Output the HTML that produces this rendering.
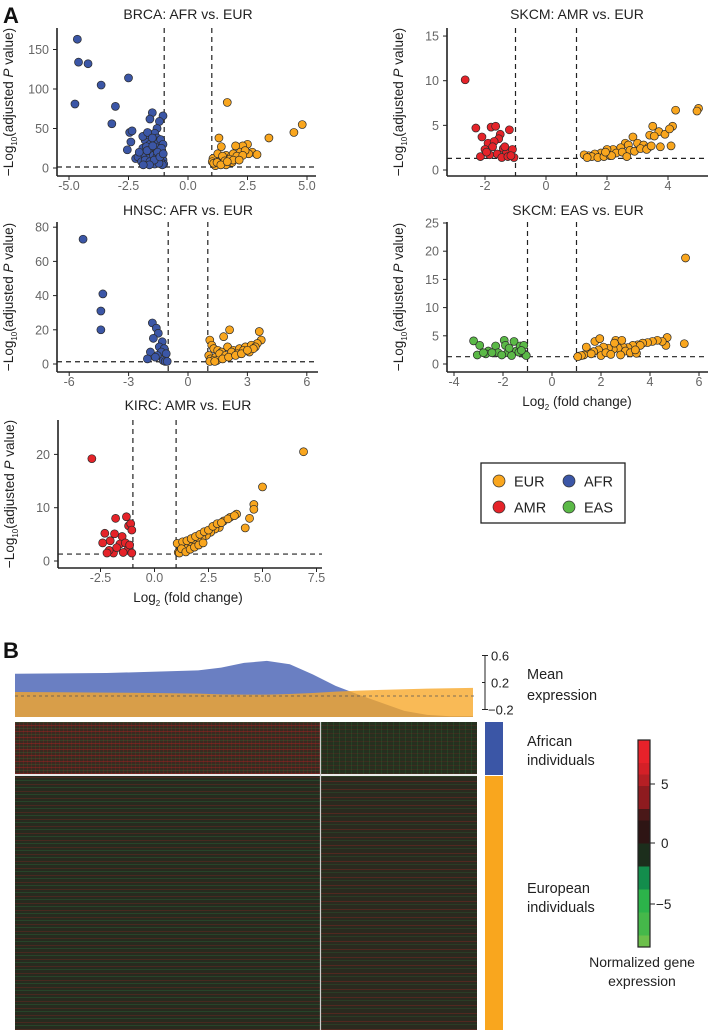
<!DOCTYPE html>
<html><head><meta charset="utf-8"><style>
body{margin:0;background:#fff;width:710px;height:1033px;overflow:hidden;position:relative;font-family:"Liberation Sans",sans-serif}
svg{position:absolute;left:0;top:0}
.hm{position:absolute}
</style></head><body>
<div class="hm" style="left:15px;top:722px;width:305px;height:52px;background:repeating-linear-gradient(0deg,rgba(200,30,35,.35) 0 1px,transparent 1px 3px,rgba(40,160,70,.18) 3px 4px,transparent 4px 6px),repeating-linear-gradient(90deg,rgba(190,30,30,.18) 0 1px,transparent 1px 4px),#3a2a20"></div>
<div class="hm" style="left:321px;top:722px;width:156px;height:52px;background:repeating-linear-gradient(90deg,rgba(40,170,70,.14) 0 1px,transparent 1px 6px),repeating-linear-gradient(0deg,rgba(180,30,30,.15) 0 1px,transparent 1px 4px),#26301f"></div>
<div class="hm" style="left:15px;top:776px;width:305px;height:254px;background:repeating-linear-gradient(0deg,rgba(190,35,35,.22) 0 1px,transparent 1px 4px,rgba(40,170,80,.2) 4px 5px,transparent 5px 7px),#272b1f"></div>
<div class="hm" style="left:321px;top:776px;width:156px;height:254px;background:repeating-linear-gradient(0deg,rgba(200,35,35,.25) 0 1px,transparent 1px 5px,rgba(40,160,70,.15) 5px 6px,transparent 6px 8px),#2a2a1f"></div>
<svg id="s" width="710" height="1033" xmlns="http://www.w3.org/2000/svg" font-family="Liberation Sans, sans-serif"></svg>
<script>
// ---- data ----
const brcaAfrX=[-4.65,-4.6,-4.2,-3.65,-2.5,-4.75,-3.05,-3.2,-2.45,-2.35,-2.55,-2.4,-1.5,-1.6,-1.05,-1.2,-1.3,-2.2,-2.0,-1.9,-1.8,-1.7,-1.6,-1.5,-1.4,-1.3,-1.2,-1.1,-1.05,-2.1,-1.95,-1.85,-1.75,-1.65,-1.55,-1.45,-1.35,-1.25,-1.15,-1.02,-1.9,-1.7,-1.5,-1.3,-1.1,-1.8,-1.6,-1.4,-1.2,-1.05,-2.05,-1.35,-1.15,-1.08,-1.12,-1.22,-1.28,-1.42,-1.62,-1.72,-1.88,-1.18,-1.04,-1.48];
const brcaAfrY=[163,134,132,105,114,81,78,56,45,47,23,33,70,62,66,59,50,12,15,25,35,42,30,20,44,38,28,22,10,14,8,18,27,12,6,16,24,32,36,5,40,45,38,15,18,10,8,5,12,30,20,26,8,4,25,6,20,10,4,22,4,14,18,28];
const brcaEurX=[1.65,4.8,4.45,3.4,1.3,2.5,2.3,2.0,1.4,2.7,2.9,2.55,1.1,1.2,1.3,1.4,1.5,1.6,1.7,1.8,1.9,2.1,2.2,1.05,1.15,1.25,1.35,1.45,1.55,1.75,1.85,2.05,2.4,1.02,1.6,1.9,2.3,1.08,1.22,1.38,1.65,2.15];
const brcaEurY=[83,55,45,38,38,30,28,28,27,20,17,18,5,10,14,8,12,16,6,14,18,12,20,12,3,18,6,15,9,11,7,15,22,8,4,10,16,6,7,4,8,10];
const skAmrX=[-2.65,-2.3,-1.8,-1.65,-1.2,-2.1,-1.5,-1.55,-1.9,-1.7,-1.75,-2.0,-1.4,-1.3,-1.1,-2.15,-1.6,-1.85,-1.45,-1.25,-1.05,-1.95,-1.35,-1.15];
const skAmrY=[10.1,4.7,4.8,4.9,4.5,3.7,4.0,3.5,3.0,3.2,2.6,2.3,2.4,1.9,2.3,1.5,1.8,1.7,1.4,1.5,1.4,2.0,2.6,1.6];
const skEurX=[5.0,4.95,4.25,4.15,3.5,3.4,3.7,3.55,3.9,4.05,4.1,3.75,2.85,3.0,3.2,3.35,2.6,2.7,2.45,2.2,2.0,1.8,1.6,1.4,1.25,1.5,1.7,1.9,2.1,2.3,2.5,2.75,2.9,3.1,3.3,1.35,2.15,2.65,3.45,1.95];
const skEurY=[6.9,6.6,6.7,4.9,4.9,3.9,4.3,3.8,4.0,4.6,2.7,2.6,3.7,3.0,2.8,2.5,3.0,2.8,2.5,2.3,2.3,1.9,1.8,1.6,1.7,1.5,1.4,1.5,1.6,1.9,2.0,2.2,2.1,2.4,2.3,1.4,1.6,1.5,2.7,2.0];
const hnAfrX=[-5.3,-4.3,-4.4,-4.4,-1.8,-1.6,-1.5,-1.75,-1.3,-1.45,-1.2,-1.35,-1.1,-1.55,-1.9,-2.05,-1.65,-1.25,-1.15,-1.05];
const hnAfrY=[73,41,31,20,24,21,18,15,13,10,9,7,6,5,7,3,4,2,1.5,1.5];
const hnEurX=[3.6,3.7,3.5,2.1,1.8,1.1,1.2,1.3,1.5,1.7,2.0,2.3,2.6,2.9,3.2,3.4,1.05,1.15,1.4,1.6,1.9,2.2,2.5,2.8,3.1,3.3,1.25,1.45,1.75,2.05,2.4,2.7,3.0,1.1,1.35];
const hnEurY=[19,14,12,20,16,14,11,9,8,7,10,8,9,10,11,10,5,3,4,6,5,7,6,8,7,9,2,2,3,4,5,6,8,1.5,1.5];
const easEasX=[-3.2,-2.95,-3.05,-2.6,-2.7,-2.3,-2.2,-1.95,-1.9,-1.8,-1.55,-1.45,-1.3,-1.15,-1.1,-2.45,-2.05,-1.65,-1.35,-1.05,-2.8,-1.75,-1.25];
const easEasY=[4.1,3.3,1.6,2.3,1.8,3.2,2.0,4.2,3.3,2.0,4.0,2.3,3.2,3.3,1.7,2.0,1.6,1.5,2.1,1.5,2.0,2.8,2.4];
const easEurX=[5.45,5.4,4.7,4.65,4.5,4.3,4.1,3.9,3.7,3.5,3.3,3.1,2.9,2.7,2.5,2.3,2.1,1.9,1.7,1.5,1.3,1.1,1.75,1.95,2.6,2.85,3.0,3.2,3.45,3.6,1.2,1.4,1.6,2.0,2.2,2.4,2.8,3.4,1.05,2.55];
const easEurY=[18.8,3.6,4.7,3.3,4.0,4.2,4.0,3.8,3.7,3.4,3.3,2.9,3.0,2.8,2.6,2.8,3.0,2.5,2.2,2.0,1.6,1.4,4.0,4.5,4.2,4.2,2.3,2.0,1.9,3.3,1.5,3.0,1.8,1.5,2.0,1.7,1.6,2.5,1.3,3.7];
const kiAmrX=[-2.9,-1.3,-1.8,-2.3,-1.85,-2.4,-2.05,-1.2,-1.1,-1.05,-1.5,-1.6,-1.35,-1.9,-2.1,-1.75,-1.25,-1.45,-1.05,-1.15,-2.2];
const kiAmrY=[19.2,8.3,8.0,5.2,5.1,3.4,3.8,6.6,7.0,5.8,4.6,3.2,3.4,1.5,2.0,2.5,2.0,1.6,1.5,3.0,1.5];
const kiEurX=[6.9,5.0,4.6,4.4,4.6,4.2,3.8,3.5,3.2,3.0,2.8,2.6,2.4,2.2,2.0,1.8,1.6,1.4,1.2,1.1,1.05,1.3,1.5,1.7,1.9,2.1,2.3,2.5,2.7,2.9,3.1,3.4,3.7,1.15,1.25,1.45,1.65,1.85,2.05,2.25];
const kiEurY=[20.5,13.9,10.6,8.0,9.7,6.2,8.8,8.2,7.5,6.3,6.0,5.4,4.8,4.2,3.9,3.2,2.8,2.5,2.0,1.6,3.3,3.6,3.8,4.2,4.6,5.0,5.5,5.8,6.5,7.0,7.2,7.9,8.5,1.5,2.3,1.7,2.2,2.6,3.0,3.4];
const densX=[0,0.1,0.2,0.3,0.4,0.45,0.5,0.55,0.6,0.65,0.7,0.75,0.8,0.85,0.9,0.95,1.0];
const blueExp=[0.33,0.335,0.34,0.36,0.38,0.42,0.49,0.52,0.47,0.32,0.15,0.02,-0.10,-0.22,-0.28,-0.30,-0.30];
const orangeExp=[0.06,0.055,0.05,0.045,0.035,0.025,0.02,0.02,0.03,0.045,0.065,0.08,0.09,0.1,0.11,0.115,0.12];
const cbarLevels=[9,8,7,6,5,4,3,2,1,0,-1,-2,-3,-4,-5,-6,-7,-8];

const NS='http://www.w3.org/2000/svg';
const S=document.getElementById('s');
function el(t,a,p){const e=document.createElementNS(NS,t);for(const k in a)e.setAttribute(k,a[k]);(p||S).appendChild(e);return e;}
function txt(x,y,s,a,p){const e=el('text',Object.assign({x:x,y:y},a),p);e.textContent=s;return e;}
const COL={AFR:'#3b56a6',EUR:'#f9a61e',AMR:'#e52329',EAS:'#5bb947'};

function panel(o){
  const g=el('g',{});
  
  
  const X=v=>o.x0+o.sx*v, Y=v=>o.y0-o.sy*v;
  const t=txt(o.tx,o.ty,o.title,{'font-size':14,'text-anchor':'middle',fill:'#222'},g);
  
  [-1,1].forEach(v=>{const l=el('line',{x1:X(v),x2:X(v),y1:o.top,y2:o.bottom,stroke:'#222','stroke-dasharray':'5,4','stroke-width':1.2},g);
    });
  const hl=el('line',{x1:o.left,x2:o.right,y1:Y(1.3),y2:Y(1.3),stroke:'#222','stroke-dasharray':'5,4','stroke-width':1.2},g);
  
  el('line',{x1:o.left,x2:o.left,y1:o.top,y2:o.bottom,stroke:'#222','stroke-width':1.6},g);
  el('line',{x1:o.left,x2:o.right,y1:o.bottom,y2:o.bottom,stroke:'#222','stroke-width':1.6},g);
  o.xt.forEach((v,i)=>{el('line',{x1:X(v),x2:X(v),y1:o.bottom,y2:o.bottom+4,stroke:'#222'},g);
    const e=txt(X(v),o.bottom+14,o.xl[i],{'font-size':12.5,'text-anchor':'middle',fill:'#666'},g);
    });
  o.yt.forEach(v=>{el('line',{x1:o.left-4,x2:o.left,y1:Y(v),y2:Y(v),stroke:'#222'},g);
    const e=txt(o.left-8,Y(v)+4.5,String(v),{'font-size':12.5,'text-anchor':'end',fill:'#666'},g);
    });
  const cy=(o.top+o.bottom)/2, lx=o.left-44;
  const yl=el('text',{x:lx,y:cy,'font-size':13.5,'text-anchor':'middle',fill:'#222',transform:`rotate(-90 ${lx} ${cy})`},g);
  yl.innerHTML='−Log<tspan font-size="8" dy="4">10</tspan><tspan dy="-4">(adjusted </tspan><tspan font-style="italic">P</tspan> value)';
  
  if(o.xlab){const xl=el('text',{x:o.xlabX,y:o.xlabY,'font-size':13.5,'text-anchor':'middle',fill:'#222'},g);
    xl.innerHTML='Log<tspan font-size="8" dy="4">2</tspan><tspan dy="-4"> (fold change)</tspan>';
    }
  o.series.forEach(s=>{s.x.forEach((v,i)=>{const c=el('circle',{cx:X(v),cy:Y(s.y[i]),r:4,fill:COL[s.grp],stroke:'#2a2a2a','stroke-width':0.7},g);
    
    });});
}
panel({name:'brca-volcano',title:'BRCA: AFR vs. EUR',tx:188,ty:19,x0:188,sx:23.8,y0:168,sy:0.79,left:57,right:316,top:28,bottom:176,
  xt:[-5,-2.5,0,2.5,5],xl:['-5.0','-2.5','0.0','2.5','5.0'],yt:[0,50,100,150],
  series:[{grp:'AFR',x:brcaAfrX,y:brcaAfrY},{grp:'EUR',x:brcaEurX,y:brcaEurY}]});
panel({name:'skcm-amr-volcano',title:'SKCM: AMR vs. EUR',tx:577,ty:19,x0:546,sx:30.5,y0:170,sy:8.93,left:447,right:708,top:28,bottom:176,
  xt:[-2,0,2,4],xl:['-2','0','2','4'],yt:[0,5,10,15],
  series:[{grp:'AMR',x:skAmrX,y:skAmrY},{grp:'EUR',x:skEurX,y:skEurY}]});
panel({name:'hnsc-volcano',title:'HNSC: AFR vs. EUR',tx:188,ty:215,x0:188,sx:19.8,y0:364,sy:1.71,left:57,right:318,top:222,bottom:372,
  xt:[-6,-3,0,3,6],xl:['-6','-3','0','3','6'],yt:[0,20,40,60,80],
  series:[{grp:'AFR',x:hnAfrX,y:hnAfrY},{grp:'EUR',x:hnEurX,y:hnEurY}]});
panel({name:'skcm-eas-volcano',title:'SKCM: EAS vs. EUR',tx:578,ty:215,x0:552,sx:24.5,y0:364,sy:5.64,left:447,right:708,top:222,bottom:372,
  xt:[-4,-2,0,2,4,6],xl:['-4','-2','0','2','4','6'],yt:[0,5,10,15,20,25],xlab:true,xlabX:577,xlabY:406,
  series:[{grp:'EAS',x:easEasX,y:easEasY},{grp:'EUR',x:easEurX,y:easEurY}]});
panel({name:'kirc-volcano',title:'KIRC: AMR vs. EUR',tx:188,ty:410,x0:154.5,sx:21.6,y0:561,sy:5.33,left:58,right:322,top:420,bottom:568,
  xt:[-2.5,0,2.5,5,7.5],xl:['-2.5','0.0','2.5','5.0','7.5'],yt:[0,10,20],xlab:true,xlabX:188,xlabY:602,
  series:[{grp:'AMR',x:kiAmrX,y:kiAmrY},{grp:'EUR',x:kiEurX,y:kiEurY}]});

let e=txt(3,23,'A',{'font-size':22,'font-weight':'bold',fill:'#111'});
e=txt(3,658,'B',{'font-size':22,'font-weight':'bold',fill:'#111'});

const lg=el('g',{});
el('rect',{x:481,y:463,width:144,height:60,fill:'#fff',stroke:'#222','stroke-width':1.3},lg);
[['EUR',499,481],['AFR',569,481],['AMR',499,507],['EAS',569,507]].forEach(d=>{
  const c=el('circle',{cx:d[1],cy:d[2],r:6,fill:COL[d[0]],stroke:'#333','stroke-width':0.7},lg);
  
  const t=txt(d[1]+15,d[2]+5.5,d[0],{'font-size':14.5,fill:'#222'},lg);
  });

const DX=v=>15+458*v, DY=v=>696-67.5*v, base=717;
function area(vals,fill,op,name){let d=`M${DX(0)},${base}`;densX.forEach((x,i)=>{d+=` L${DX(x)},${DY(vals[i])}`;});d+=` L${DX(1)},${base} Z`;
  const p=el('path',{d:d,fill:fill,'fill-opacity':op});}
area(blueExp,'#6a7fc2',1,'mean-expression-african');
area(orangeExp,'#f7a626',0.78,'mean-expression-european');
el('line',{x1:15,x2:477,y1:DY(0),y2:DY(0),stroke:'#555','stroke-dasharray':'3,3','stroke-width':0.8});
const ax=el('g',{});
el('path',{d:`M488,${DY(0.6)} H485 V${DY(-0.2)} H488`,fill:'none',stroke:'#222','stroke-width':1},ax);
[0.6,0.2,-0.2].forEach(v=>{el('line',{x1:482,x2:485,y1:DY(v),y2:DY(v),stroke:'#222'},ax);
  txt(v<0?488:491,DY(v)+5,v<0?'−0.2':String(v),{'font-size':13,fill:'#222'},ax);});
const t1=txt(527,679,'Mean',{'font-size':14.5,fill:'#222'});
txt(527,700,'expression',{'font-size':14.5,fill:'#222'});
el('line',{x1:15,x2:477,y1:775,y2:775,stroke:'#ddd','stroke-width':1.2});
el('line',{x1:320.5,x2:320.5,y1:722,y2:1030,stroke:'#ccc','stroke-width':1.2});
el('rect',{x:485,y:722,width:18,height:53,fill:'#3b56a6'});
el('rect',{x:485,y:776,width:18,height:254,fill:'#f9a61e'});
txt(527,746,'African',{'font-size':14.5,fill:'#222'});
txt(527,765,'individuals',{'font-size':14.5,fill:'#222'});
txt(527,893,'European',{'font-size':14.5,fill:'#222'});
txt(527,912,'individuals',{'font-size':14.5,fill:'#222'});
const CB=el('g',{});
const cTop=740,cBot=947,cV=v=>cTop+(9-v)*(cBot-cTop)/18;
const segCol=['#e8222a','#e8222a','#d42027','#b51f24','#8e1b1f','#8e1b1f','#4a1818','#2e1514','#2e1514','#1c2e1c','#1c2e1c','#138d4c','#138d4c','#2cb34a','#2cb34a','#45b84a','#45b84a','#6cbf4b'];
cbarLevels.forEach((v,i)=>{el('rect',{x:638,y:cV(v),width:12,height:(cBot-cTop)/18+0.5,fill:segCol[i]},CB);});
el('rect',{x:638,y:cTop,width:12,height:cBot-cTop,fill:'none',stroke:'#222','stroke-width':1.2},CB);
[[5,'5'],[0,'0'],[-5,'−5']].forEach(d=>{const y=d[0]==5?784:d[0]==0?843:904;
  el('line',{x1:650,x2:655,y1:y,y2:y,stroke:'#222'},CB);txt(d[0]<0?656:661,y+5,d[1],{'font-size':13.5,fill:'#222'},CB);});
txt(642,967,'Normalized gene',{'font-size':14,'text-anchor':'middle',fill:'#222'});
txt(642,986,'expression',{'font-size':14,'text-anchor':'middle',fill:'#222'});
</script>
</body></html>
